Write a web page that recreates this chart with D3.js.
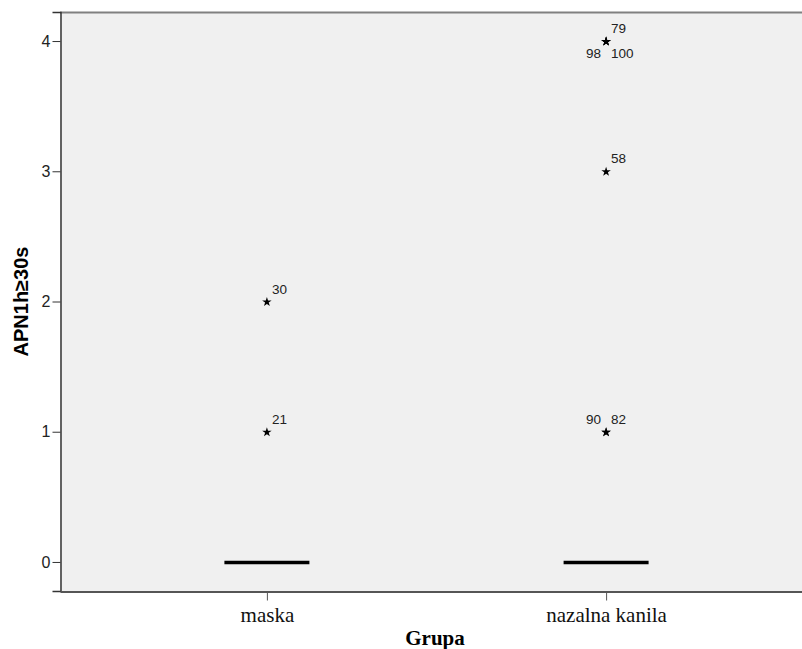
<!DOCTYPE html>
<html>
<head>
<meta charset="utf-8">
<script src="https://cdn.jsdelivr.net/npm/d3@7"></script>
<style>
  body { margin: 0; background: #fff; }
</style>
</head>
<body>
<div id="chart"></div>
<script>
const groups = ['maska', 'nazalna kanila']
const medians = [0, 0]
// outliers: group, value, case label, label placement
const outlierGroup = ['maska', 'maska', 'nazalna kanila', 'nazalna kanila', 'nazalna kanila', 'nazalna kanila', 'nazalna kanila', 'nazalna kanila']
const outlierValue = [1, 2, 1, 1, 3, 4, 4, 4]
const outlierCase = ['21', '30', '82', '90', '58', '79', '98', '100']
const outlierPlace = ['ur', 'ur', 'ur', 'ul', 'ur', 'ur', 'll', 'lr']
const yTicks = [0, 1, 2, 3, 4]

const width = 802
const height = 649
const margin = { top: 12, left: 60, right: -11, bottom: 58 }

const svg = d3
  .select('#chart')
  .append('svg')
  .attr('width', width)
  .attr('height', height)

const x = d3
  .scalePoint()
  .domain(groups)
  .range([margin.left, width - margin.right])
  .padding(0.61)

const y = d3
  .scaleLinear()
  .domain([-0.223, 4.223])
  .range([height - margin.bottom, margin.top])

// plot background
svg
  .append('rect')
  .attr('x', margin.left)
  .attr('y', margin.top)
  .attr('width', width - margin.left - margin.right)
  .attr('height', height - margin.top - margin.bottom)
  .attr('fill', '#f0f0f0')

// top border
svg
  .append('line')
  .attr('x1', margin.left)
  .attr('x2', width)
  .attr('y1', margin.top + 0.5)
  .attr('y2', margin.top + 0.5)
  .attr('stroke', '#808080')
  .attr('stroke-width', 2)

// median lines
svg
  .selectAll('.median')
  .data(groups)
  .enter()
  .append('line')
  .attr('class', 'median')
  .attr('x1', d => x(d) - 42.5)
  .attr('x2', d => x(d) + 42.5)
  .attr('y1', (d, i) => y(medians[i]) + 0.5)
  .attr('y2', (d, i) => y(medians[i]) + 0.5)
  .attr('stroke', '#000')
  .attr('stroke-width', 3.5)

// outliers
const outliers = outlierValue.map((v, i) => ({
  group: outlierGroup[i],
  value: v,
  label: outlierCase[i],
  place: outlierPlace[i]
}))

const star = d3.symbol().type(d3.symbolStar).size(28)

svg
  .selectAll('.outlier')
  .data(outliers)
  .enter()
  .append('path')
  .attr('class', 'outlier')
  .attr('d', star)
  .attr('transform', d => `translate(${x(d.group)},${y(d.value) + 0.5})`)
  .attr('fill', '#000')

svg
  .selectAll('.outlier-label')
  .data(outliers)
  .enter()
  .append('text')
  .attr('class', 'outlier-label')
  .attr('x', d => x(d.group) + (d.place[1] === 'r' ? 5 : -5))
  .attr('y', d => y(d.value) + (d.place[0] === 'u' ? -8 : 17))
  .attr('text-anchor', d => (d.place[1] === 'r' ? 'start' : 'end'))
  .style('font-family', 'Arial, "Liberation Sans", sans-serif')
  .style('font-size', '13.5px')
  .attr('fill', '#222')
  .text(d => d.label)

// y axis
const yAxis = d3
  .axisLeft(y)
  .tickValues(yTicks)
  .tickFormat(d3.format('d'))
  .tickSize(8)
  .tickPadding(2)
const yg = svg
  .append('g')
  .attr('class', 'axis y-axis')
  .attr('transform', `translate(${margin.left + 0.5},0)`)
  .call(yAxis)
yg.select('.domain').attr('stroke', '#333').attr('stroke-width', 1.5)
yg.selectAll('.tick line').attr('stroke', '#333')
yg.selectAll('.tick text')
  .style('font-family', 'Arial, "Liberation Sans", sans-serif')
  .style('font-size', '16px')
  .attr('fill', '#222')

// x axis
const xAxis = d3.axisBottom(x).tickSize(9).tickPadding(7).tickSizeOuter(0)
const xg = svg
  .append('g')
  .attr('class', 'axis x-axis')
  .attr('transform', `translate(0,${height - margin.bottom + 0.5})`)
  .call(xAxis)
xg.select('.domain').attr('stroke', '#555').attr('stroke-width', 2)
xg.selectAll('.tick line').attr('stroke', '#555')
xg.selectAll('.tick text')
  .style('font-family', '"Liberation Serif", "Times New Roman", serif')
  .style('font-size', '21px')
  .attr('fill', '#111')

// axis titles
svg
  .append('text')
  .attr('x', 435)
  .attr('y', 645)
  .attr('text-anchor', 'middle')
  .style('font-family', '"Liberation Serif", "Times New Roman", serif')
  .style('font-size', '21px')
  .style('font-weight', 'bold')
  .text('Grupa')

svg
  .append('text')
  .attr('transform', `translate(28,${y(2)}) rotate(-90)`)
  .attr('text-anchor', 'middle')
  .style('font-family', 'Arial, "Liberation Sans", sans-serif')
  .style('font-size', '20px')
  .style('font-weight', 'bold')
  .text('APN1h≥30s')
</script>
</body>
</html>
